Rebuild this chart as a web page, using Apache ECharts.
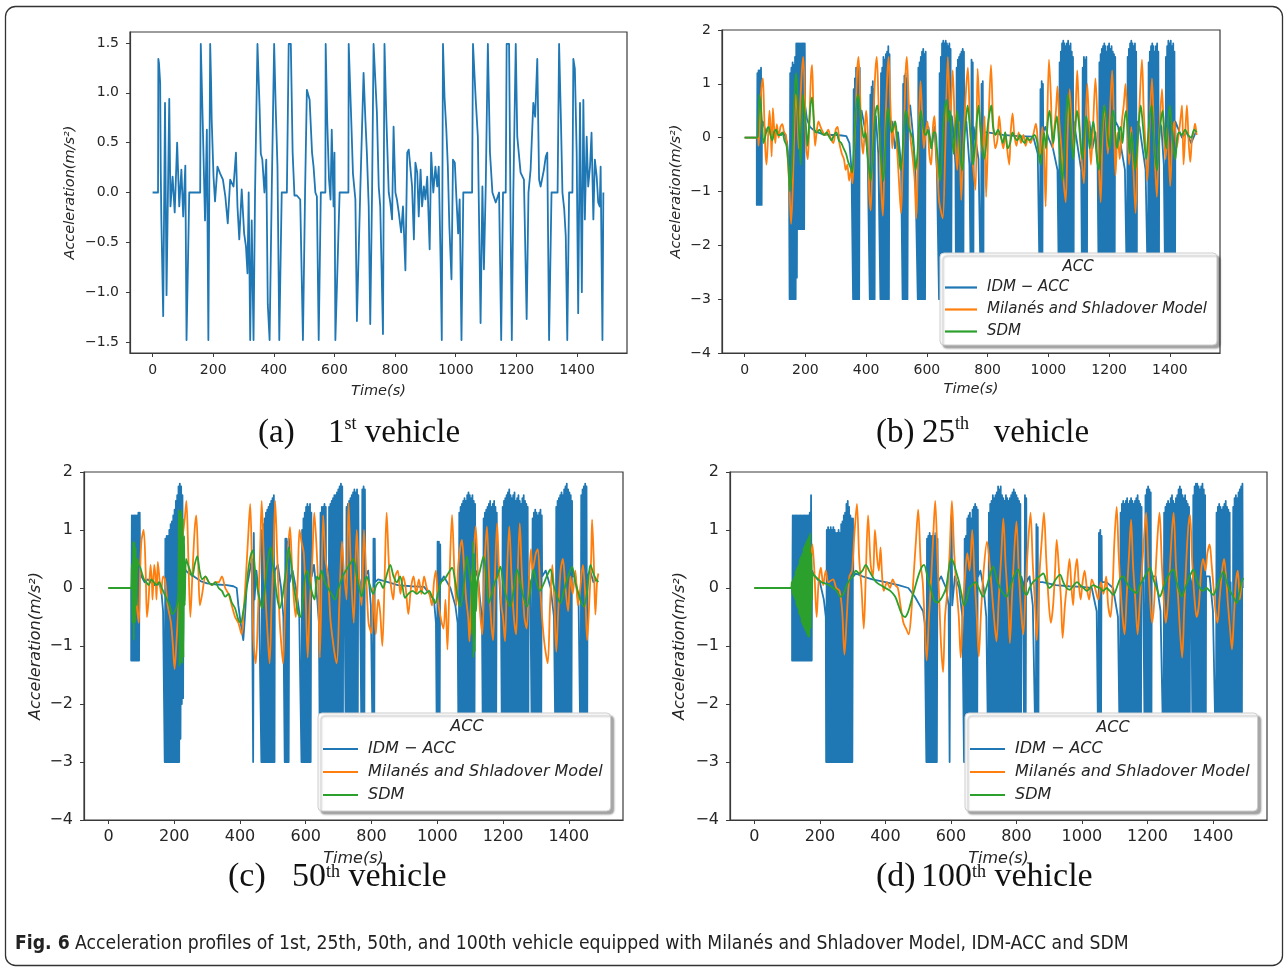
<!DOCTYPE html>
<html><head><meta charset="utf-8">
<script src="https://cdn.jsdelivr.net/npm/echarts@6/dist/echarts.min.js"></script>
<style>html,body{margin:0;padding:0;background:#fff}#c{width:1288px;height:971px}</style>
</head><body><div id="c"></div>
<script>
// ---------------- DATA ----------------
const xTicks = [0, 200, 400, 600, 800, 1000, 1200, 1400];
const yTicksA = [-1.5, -1.0, -0.5, 0.0, 0.5, 1.0, 1.5];
const modelNames = ['IDM − ACC', 'Milanés and Shladover Model', 'SDM'];
const legendTitle = 'ACC';
const xTitle = 'Time(s)';
const yTitle = 'Acceleration(m/s²)';
const figCaptionBold = 'Fig. 6';
const figCaptionText = ' Acceleration profiles of 1st, 25th, 50th, and 100th vehicle equipped with Milanés and Shladover Model, IDM-ACC and SDM';
const panelLetters = ['(a)', '(b)', '(c)', '(d)'];
const panelNumbers = ['1', '25', '50', '100'];
const panelSuffix = ['st', 'th', 'th', 'th'];

// flat lists: time, acceleration, time, acceleration, ...
// (a) 1st vehicle
const a_lead = [0,0, 18,0, 19,1.34, 21,1.3, 23,1.2, 25,1.1, 27,0.2, 29,-0.28, 35,-1.24, 41,0.9, 46,-1.03, 55,0.94, 59,-0.14, 66,0.16, 73,-0.2, 81,0.5, 88,-0.14, 95,0.23, 101,-0.24, 108,0.27, 112,-1.48, 121,0, 157,0, 159,1.49, 163,1.49, 166,0.63, 173,-0.28, 179,0.63, 184,-1.48, 190,1.49, 193,1.1, 195,0.73, 201,0.16, 206,-0.09, 214,0.26, 223,0.19, 232,0.13, 240,-0.04, 248,-0.31, 256,0.13, 267,0.06, 275,0.4, 280,-0.14, 286,-0.47, 294,0.03, 302,-0.41, 308,-0.54, 313,-0.81, 317,0.0, 322,-1.48, 327,-0.28, 333,-1.48, 338,0, 344,0, 346,1.49, 353,0.85, 357,0.39, 362,0.33, 369,0.0, 375,0.33, 380,-1.12, 386,-1.48, 393,0, 401,1.49, 406,0.87, 412,0.26, 418,-1.48, 426,0, 443,0, 449,1.49, 456,1.49, 462,0.4, 468,-0.03, 476,-0.03, 487,-0.07, 496,-1.48, 503,0, 509,1.03, 518,0.93, 526,0.4, 531,0.26, 537,0, 542,-0.04, 548,-1.48, 555,0, 570,0, 571,1.49, 576,0.73, 582,0.13, 587,-0.07, 591,0.63, 597,-0.14, 600,0.4, 603,-1.48, 617,0, 646,0, 647,1.49, 655,0.76, 661,0.19, 669,-0.07, 674,-1.29, 680,-1.29, 685,0, 696,1.2, 702,0.73, 707,0.39, 713,-0.14, 718,-1.32, 724,0.0, 729,1.49, 740,0.8, 746,0.06, 751,-0.14, 760,-1.42, 763,-1.42, 765,1.49, 771,0.76, 779,0.0, 784,-0.1, 790,-0.27, 795,0.66, 801,0, 806,-0.07, 812,-0.2, 820,-0.4, 826,-0.14, 834,-0.78, 840,0.4, 845,0.43, 851,0.23, 856,0.06, 862,-0.47, 867,0.3, 873,0.2, 878,-0.24, 884,0.23, 889,-0.14, 895,0.06, 900,-0.07, 906,0.16, 914,-0.57, 919,0.4, 926,0, 933,0.26, 939,0.06, 944,0.26, 950,-0.67, 954,-1.48, 958,1.49, 963,0.96, 969,0.63, 974,0.26, 979,-0.34, 986,-0.87, 991,0.33, 997,0.3, 1002,-0.04, 1008,-0.41, 1013,-0.07, 1019,-1.48, 1025,0, 1054,0, 1057,1.49, 1066,0.93, 1073,0.56, 1082,-1.31, 1088,0.06, 1093,-0.77, 1099,0.06, 1106,1.49, 1113,0.4, 1121,0.0, 1132,-0.1, 1143,0, 1150,-1.48, 1156,0, 1165,0, 1168,1.49, 1176,1.49, 1181,-0.27, 1185,-1.48, 1190,0, 1198,1.49, 1203,0.56, 1214,0.2, 1225,0.13, 1234,-1.27, 1240,0.0, 1247,0.23, 1256,0.9, 1262,0.76, 1269,1.34, 1275,0.13, 1280,0.06, 1291,0.23, 1297,0.36, 1302,0.4, 1308,-1.48, 1316,0, 1336,0, 1341,1.49, 1347,0.73, 1352,0.0, 1358,-0.17, 1363,-0.44, 1368,-1.48, 1374,0, 1385,0, 1388,1.34, 1393,1.24, 1399,0.4, 1404,-1.21, 1410,0.9, 1416,-1.0, 1421,0.93, 1426,-0.27, 1432,0.56, 1437,0.06, 1443,0.26, 1448,0.6, 1454,-0.27, 1459,0.33, 1465,0.16, 1470,-0.1, 1475,-0.14, 1478,0.26, 1484,-1.48, 1487,0];

// (b) 25th vehicle
const b_idm = [0,0, 40,0, 40,-1.25, 42,1.2, 44,-1.25, 46,1.25, 48,-1.25, 50,1.25, 52,-1.25, 54,1.3, 56,-1.25, 57,0.2, 60,0.3, 70,0.1, 80,0.15, 90,0.05, 100,0.15, 110,0.1, 120,0.05, 130,0.1, 140,-0.1, 146,-0.5,
 148,-3, 150,1.2, 152,-3, 154,1.3, 156,-3, 158,1.4, 160,-3, 162,1.35, 164,-3, 166,1.5, 168,-3, 170,1.75, 172,-2.6, 174,1.75, 176,-1.7, 178,1.75, 180,-1.7, 182,1.75, 184,-1.7, 186,1.75, 188,-1.7, 190,1.75, 192,-1.7, 194,1.75, 196,-1.7, 198,1.75, 199,0.6,
 205,0.35, 215,0.2, 225,0.15, 240,0.1, 260,0.06, 280,0.05, 300,0.05, 320,0.04, 335,0.03, 345,-0.1, 352,-0.6,
 357,-3, 359,0.9, 361,-3, 363,1.1, 365,-3, 367,1.3, 369,-3, 371,1.3, 373,-3, 375,1.35, 377,-3, 379,1.3, 380,0.3, 385,0.5, 395,0.2, 405,-0.3,
 412,-3, 414,0.8, 416,-3, 418,0.95, 420,-3, 422,1.05, 424,-3, 426,0.9, 428,-3, 429,0.2, 432,0.4, 440,-0.3,
 447,-3, 449,1.2, 451,-3, 453,1.3, 455,-3, 457,1.5, 459,-3, 461,1.45, 463,-3, 465,1.55, 467,-3, 469,1.6, 471,-3, 473,1.7, 475,-3, 477,1.55, 478,0.3, 485,0.3, 495,-0.2, 505,0.1, 515,-0.5,
 520,-3, 522,1.0, 524,-3, 526,1.15, 528,-3, 530,1.2, 532,-3, 534,1.1, 536,-3, 538,0.2, 545,0.6, 555,0.0, 562,-0.6,
 570,-3, 572,1.3, 574,-3, 576,1.4, 578,-3, 580,1.5, 582,-3, 584,1.6, 586,-3, 588,1.65, 590,-3, 592,1.55, 594,-3, 596,1.6, 597,0.2, 605,0.2, 615,-0.2, 625,0.2, 633,-0.6,
 640,-3, 642,1.2, 644,-3, 646,1.5, 648,-3, 650,1.75, 652,-3, 654,1.8, 656,-3, 658,1.75, 660,-3, 662,1.8, 664,-3, 666,1.75, 668,-3, 670,1.7, 672,-3, 674,1.75, 676,-3, 678,1.65, 680,-3, 682,0.4, 688,0.1, 694,-0.5,
 696,-3, 698,1.3, 700,-3, 702,1.45, 704,-3, 706,1.5, 708,-3, 710,1.55, 712,-3, 714,1.6, 716,-3, 718,1.65, 720,-3, 722,1.6, 723,0.2, 730,0.3, 740,-0.5,
 745,-3, 747,1.45, 749,-3, 751,1.4, 753,-3, 754,0.2, 760,0.2, 770,-0.4,
 778,-3, 780,1.0, 782,-3, 784,1.05, 786,-3, 787,0.1, 800,0.1, 850,0.05, 900,0.03, 950,0.02, 965,-0.3,
 972,-3, 974,0.9, 976,-3, 978,1.05, 980,-3, 982,1.0, 983,0.1, 990,0.2, 1000,0.0, 1015,-0.2, 1030,-0.6,
 1035,-3, 1037,1.4, 1039,-3, 1041,1.6, 1043,-3, 1045,1.75, 1047,-3, 1049,1.8, 1051,-3, 1053,1.75, 1055,-3, 1057,1.7, 1059,-3, 1061,1.75, 1063,-3, 1065,1.8, 1067,-3, 1069,1.7, 1071,-3, 1073,1.75, 1075,-3, 1077,1.6, 1079,-3, 1081,1.5, 1083,-3, 1084,0.3, 1090,0.3, 1100,-0.3, 1108,-0.6,
 1111,-3, 1113,1.3, 1115,-3, 1117,1.5, 1119,-3, 1121,1.45, 1123,-3, 1125,1.5, 1127,-3, 1128,0.2, 1135,0.3, 1145,-0.2, 1155,0.1, 1162,-0.5,
 1166,-3, 1168,1.4, 1170,-3, 1172,1.55, 1174,-3, 1176,1.65, 1178,-3, 1180,1.7, 1182,-3, 1184,1.75, 1186,-3, 1188,1.7, 1190,-3, 1192,1.6, 1194,-3, 1196,1.7, 1198,-3, 1200,1.75, 1202,-3, 1204,1.65, 1206,-3, 1208,1.7, 1210,-3, 1212,1.6, 1214,-3, 1216,1.55, 1218,-3, 1220,1.5, 1221,0.3, 1230,0.2, 1240,-0.2, 1252,-0.6,
 1259,-3, 1261,1.5, 1263,-3, 1265,1.65, 1267,-3, 1269,1.75, 1271,-3, 1273,1.8, 1275,-3, 1277,1.75, 1279,-3, 1281,1.7, 1283,-3, 1285,1.75, 1287,-3, 1289,1.6, 1291,-3, 1292,0.3, 1300,0.2, 1310,-0.2, 1320,-0.6,
 1328,-3, 1330,1.4, 1332,-3, 1334,1.6, 1336,-3, 1338,1.7, 1340,-3, 1342,1.75, 1344,-3, 1346,1.7, 1348,-3, 1350,1.6, 1352,-3, 1354,1.7, 1356,-3, 1358,1.75, 1360,-3, 1362,1.6, 1364,-3, 1365,0.3, 1372,0.2, 1380,-0.5,
 1385,-3, 1387,1.5, 1389,-3, 1391,1.7, 1393,-3, 1395,1.8, 1397,-3, 1399,1.75, 1401,-3, 1403,1.8, 1405,-3, 1407,1.7, 1409,-3, 1411,1.75, 1413,-3, 1415,1.6, 1417,-3, 1418,0.3, 1425,0.2, 1440,0.0, 1455,0.1, 1470,-0.1, 1485,0.1];
const b_mil = [0,0, 42,0, 46,-0.15, 50,0.3, 55,0.9, 60,1.1, 64,0.5, 68,-0.2, 72,-0.5, 77,0.0, 82,0.5, 86,0.1, 89,-0.35, 93,0.55, 97,0.2, 101,-0.1, 106,0.25, 112,0.0, 118,0.2, 124,0.25, 130,0.1, 136,0.05, 142,-0.4, 148,-1.0, 153,-1.6, 158,-1.0, 163,0.0, 168,0.8, 173,0.5, 178,-0.2, 183,0.6, 188,1.2, 193,1.5, 198,0.8, 203,-0.2, 208,-0.4, 213,0.3, 218,1.1, 222,1.35, 227,0.4, 232,-0.15, 237,0.1, 243,0.3, 250,0.2, 258,0.1, 266,0.05, 275,0.15, 283,0.0, 292,-0.1, 300,0.15, 306,0.2, 312,-0.1, 320,-0.3, 327,-0.4, 333,-0.6, 338,-0.5, 344,-0.8, 350,-0.6, 355,-0.85, 360,-0.3, 366,0.5, 370,1.2, 375,1.5, 380,0.8, 385,0.0, 390,-0.3, 396,0.2, 400,0.5, 405,0.1, 410,-1.0, 415,-1.35, 420,-0.5, 425,0.5, 430,1.2, 435,1.5, 440,0.8, 445,-0.2, 450,-1.0, 455,-1.45, 460,-0.5, 465,0.5, 470,1.2, 474,1.5, 480,0.6, 486,-0.2, 492,0.3, 498,0.1, 505,-0.5, 510,-1.0, 515,-1.4, 520,-0.6, 525,0.2, 530,1.2, 534,1.5, 540,0.7, 546,0.0, 552,-0.3, 560,-0.8, 565,-1.5, 570,-0.6, 575,0.5, 579,1.05, 584,0.5, 590,-0.2, 596,0.1, 602,0.3, 608,-0.3, 614,-0.5, 620,0.2, 625,0.4, 630,-0.2, 636,-0.8, 641,-1.2, 652,-1.5, 660,-0.3, 669,1.5, 677,0.4, 685,1.25, 693,0.0, 700,-0.6, 706,0.3, 713,-1.16, 720,-0.2, 728,0.8, 735,1.3, 742,0.2, 750,-0.4, 760,-0.97, 767,1.28, 775,0.3, 783,-0.3, 790,0.4, 795,-1.1, 803,0.3, 811,1.35, 818,0.3, 825,-0.2, 832,-0.05, 838,0.4, 845,0.0, 852,-0.2, 858,0.1, 864,-0.2, 871,-0.5, 876,0.1, 882,0.45, 888,0.05, 895,-0.15, 902,0.1, 910,-0.1, 918,0.05, 925,-0.15, 933,0.0, 941,-0.1, 950,0.05, 959,0.26, 966,-0.1, 973,-0.3, 980,0.2, 986,-0.3, 991,-1.28, 996,0.2, 1002,1.45, 1008,0.8, 1014,-0.2, 1020,0.2, 1025,0.5, 1030,0.95, 1036,0.3, 1043,-0.2, 1050,-0.8, 1057,-1.2, 1063,0.0, 1070,0.9, 1076,0.3, 1082,-0.3, 1088,0.2, 1095,1.25, 1101,0.4, 1108,-0.3, 1117,-0.85, 1122,0.2, 1128,1.0, 1134,0.2, 1140,-0.5, 1147,0.2, 1155,1.1, 1162,0.2, 1167,-0.6, 1172,-1.2, 1178,0.0, 1184,0.6, 1190,0.2, 1196,-0.3, 1203,0.5, 1210,1.25, 1216,0.3, 1221,-0.7, 1228,0.1, 1235,-0.4, 1242,0.3, 1248,0.6, 1254,1.0, 1260,0.2, 1266,-0.5, 1273,0.2, 1280,-0.6, 1287,-1.4, 1293,-0.3, 1300,0.6, 1308,1.45, 1314,0.5, 1320,-0.2, 1326,-0.8, 1333,0.2, 1341,1.1, 1348,0.0, 1357,-1.1, 1363,-0.2, 1368,0.4, 1374,0.9, 1380,0.1, 1386,-0.4, 1392,0.2, 1401,-0.9, 1408,0.0, 1415,0.3, 1422,-0.2, 1430,0.1, 1436,0.4, 1440,0.6, 1445,-0.5, 1450,0.0, 1456,0.6, 1462,-0.1, 1467,-0.45, 1473,0.0, 1478,0.1, 1483,0.26, 1488,0.05];
const b_sdm = [0,0, 42,0, 45,0.3, 49,0.8, 53,0.6, 58,0.2, 62,-0.1, 67,0.0, 73,0.15, 79,0.2, 85,0.05, 91,-0.05, 97,0.1, 104,0.15, 110,0.05, 117,0.05, 124,0.1, 131,-0.05, 138,-0.15, 144,-0.5, 149,-1.0, 154,-0.7, 158,-0.2, 162,0.5, 166,1.0, 170,1.2, 175,0.6, 180,0.0, 184,-0.5, 188,0.2, 192,0.8, 197,0.5, 202,0.2, 207,-0.15, 212,0.2, 217,0.6, 222,0.75, 227,0.4, 232,0.1, 238,0.1, 246,0.15, 254,0.08, 262,0.05, 270,0.1, 278,0.02, 286,-0.05, 294,0.05, 302,0.1, 310,-0.05, 318,-0.1, 326,-0.2, 334,-0.3, 341,-0.45, 348,-0.55, 354,-0.65, 359,-0.3, 364,0.3, 369,0.7, 374,0.8, 380,0.5, 386,0.2, 392,0.0, 398,0.1, 404,-0.3, 410,-0.6, 415,-0.8, 421,-0.4, 427,0.2, 432,0.5, 437,0.6, 442,0.3, 447,-0.2, 452,-0.6, 457,-0.8, 462,-0.3, 467,0.3, 472,0.55, 478,0.3, 484,0.1, 490,0.2, 496,0.3, 502,0.0, 508,-0.3, 513,-0.6, 518,-0.4, 524,0.1, 530,0.5, 535,0.4, 540,0.2, 546,0.1, 552,0.0, 558,-0.3, 563,-0.6, 569,-0.3, 574,0.2, 580,0.5, 585,0.3, 591,0.1, 597,0.05, 603,0.15, 609,0.0, 615,-0.2, 622,0.1, 628,0.1, 633,-0.2, 638,-0.5, 643,-0.8, 648,-0.5, 654,0.2, 660,0.6, 665,0.7, 670,0.3, 676,0.5, 682,0.1, 688,-0.3, 694,0.2, 700,0.5, 705,0.1, 711,-0.4, 717,-0.6, 723,-0.1, 728,0.3, 734,0.6, 740,0.3, 746,-0.1, 752,-0.5, 758,-0.2, 764,0.3, 770,0.6, 776,0.2, 782,-0.2, 788,-0.4, 794,-0.2, 800,0.2, 806,0.45, 812,0.6, 818,0.2, 826,0.05, 834,0.15, 842,0.05, 850,-0.1, 858,0.1, 866,-0.2, 874,-0.1, 882,0.1, 890,0.0, 898,-0.05, 906,0.05, 914,-0.05, 922,-0.1, 930,0.0, 938,-0.05, 946,0.0, 954,0.05, 962,-0.05, 968,-0.3, 974,-0.5, 980,-0.2, 986,0.1, 992,-0.2, 998,0.3, 1004,0.5, 1010,0.2, 1016,-0.1, 1022,0.2, 1028,0.4, 1034,0.0, 1040,-0.5, 1046,-0.8, 1052,-0.3, 1058,0.4, 1064,0.8, 1070,0.5, 1076,0.0, 1082,-0.4, 1088,0.1, 1094,0.5, 1100,0.3, 1106,-0.1, 1112,-0.4, 1118,0.0, 1124,0.4, 1130,0.2, 1136,-0.2, 1142,0.1, 1148,0.3, 1154,0.0, 1160,-0.4, 1166,-0.6, 1172,-0.2, 1178,0.3, 1184,0.6, 1190,0.4, 1196,0.0, 1202,-0.2, 1208,0.3, 1214,0.5, 1220,0.1, 1226,-0.2, 1232,0.1, 1238,0.2, 1244,-0.1, 1250,0.3, 1256,0.5, 1262,0.1, 1268,-0.3, 1274,0.1, 1280,-0.3, 1286,-0.6, 1292,-0.2, 1298,0.3, 1304,0.6, 1310,0.3, 1316,-0.1, 1322,-0.4, 1328,0.0, 1334,0.4, 1340,0.6, 1346,0.1, 1352,-0.4, 1358,-0.6, 1364,-0.1, 1370,0.3, 1376,0.5, 1382,0.1, 1388,-0.2, 1394,0.3, 1400,0.6, 1406,0.2, 1412,-0.2, 1418,-0.4, 1424,0.0, 1430,0.1, 1440,0.05, 1450,0.15, 1460,0.05, 1470,0.0, 1480,0.15, 1488,0.1];

// (c) 50th vehicle
const c_idm = [0,0, 69,0, 69,-1.25, 71,1.25, 73,-1.25, 75,1.25, 77,-1.25, 79,1.25, 81,-1.25, 83,1.25, 85,-1.25, 87,1.25, 89,-1.25, 91,1.3, 93,-1.25, 95,1.3, 96,0.3, 100,0.2, 110,0.1, 120,0.15, 130,0.1, 140,0.05, 150,0.1, 160,0.0, 166,-0.4,
 171,-3, 173,0.85, 175,-3, 177,0.9, 179,-3, 181,0.9, 183,-3, 185,1.0, 187,-3, 189,1.1, 191,-3, 193,1.15, 195,-3, 197,1.25, 199,-3, 201,1.35, 203,-3, 205,1.5, 207,-3, 209,1.6, 211,-3, 213,1.75, 215,-3, 217,1.8, 219,-2.6, 221,1.75, 223,-2.0, 225,1.6, 227,-1.9, 228,0.4,
 235,0.3, 245,0.25, 260,0.2, 280,0.12, 300,0.08, 330,0.06, 360,0.05, 380,0.03, 390,0.0, 395,-0.3, 402,-0.6, 410,-0.9, 415,-0.5, 420,0.0, 430,0.3, 436,0.5, 440,-3, 442,0.95, 444,-0.2, 450,0.3, 458,-0.2,
 465,-3, 467,1.0, 469,-3, 471,1.1, 473,-3, 475,1.2, 477,-3, 479,1.3, 481,-3, 483,1.35, 485,-3, 487,1.4, 489,-3, 491,1.45, 493,-3, 495,1.5, 497,-3, 499,1.55, 501,-3, 503,1.6, 505,-3, 506,0.3, 515,0.4, 525,0.0, 532,-0.5,
 536,-3, 538,0.85, 540,-3, 542,0.85, 544,-3, 546,0.8, 548,-3, 550,0.85, 551,0.1, 560,0.3, 570,0.0, 580,-0.4,
 587,-3, 589,1.0, 591,-3, 593,1.2, 595,-3, 597,1.3, 599,-3, 601,1.4, 603,-3, 605,1.45, 607,-3, 609,1.4, 611,-3, 613,1.45, 615,-3, 617,1.3, 618,0.2, 625,0.4, 635,-0.2, 640,-0.6,
 643,-3, 645,1.3, 647,-3, 649,1.4, 651,-3, 653,1.4, 655,-3, 657,1.45, 659,-3, 661,1.4, 663,-3, 664,0.2, 667,0.1,
 669,-3, 671,1.4, 673,-3, 675,1.45, 677,-3, 679,1.5, 681,-3, 683,1.55, 685,-3, 687,1.6, 689,-3, 691,1.6, 693,-3, 695,1.65, 697,-3, 699,1.7, 701,-3, 703,1.75, 705,-3, 707,1.8, 709,-3, 711,1.75, 713,-3, 714,0.3, 718,0.1,
 722,-3, 724,1.4, 726,-3, 728,1.45, 730,-3, 732,1.5, 734,-3, 736,1.55, 738,-3, 740,1.6, 742,-3, 744,1.65, 746,-3, 748,1.7, 750,-3, 752,1.65, 754,-3, 756,1.7, 758,-3, 760,1.6, 761,0.2, 765,0.1,
 770,-3, 772,1.7, 774,-3, 776,1.75, 778,-3, 780,1.7, 781,0.2, 790,0.3, 798,-0.3,
 804,-3, 806,0.85, 808,-3, 810,0.85, 811,0.1, 820,0.15, 850,0.1, 880,0.05, 920,0.03, 960,0.02, 990,-0.2, 996,-0.6,
 999,-3, 1001,0.8, 1003,-3, 1005,0.8, 1007,-3, 1009,0.75, 1010,0.1, 1020,0.2, 1040,0.0, 1055,-0.3, 1062,-0.6,
 1065,-3, 1067,1.3, 1069,-3, 1071,1.4, 1073,-3, 1075,1.45, 1077,-3, 1079,1.5, 1081,-3, 1083,1.55, 1085,-3, 1087,1.5, 1089,-3, 1091,1.6, 1093,-3, 1095,1.65, 1097,-3, 1099,1.6, 1101,-3, 1103,1.55, 1105,-3, 1107,1.6, 1109,-3, 1111,1.5, 1113,-3, 1115,1.45, 1116,0.2, 1122,0.3, 1130,-0.2, 1136,-0.5,
 1139,-3, 1141,1.2, 1143,-3, 1145,1.3, 1147,-3, 1149,1.35, 1151,-3, 1153,1.4, 1155,-3, 1157,1.45, 1159,-3, 1161,1.5, 1163,-3, 1165,1.4, 1167,-3, 1169,1.45, 1171,-3, 1173,1.5, 1175,-3, 1177,1.4, 1179,-3, 1181,1.3, 1182,0.2, 1188,0.3, 1194,-0.5,
 1197,-3, 1199,1.4, 1201,-3, 1203,1.5, 1205,-3, 1207,1.55, 1209,-3, 1211,1.6, 1213,-3, 1215,1.65, 1217,-3, 1219,1.7, 1221,-3, 1223,1.6, 1225,-3, 1227,1.55, 1229,-3, 1231,1.6, 1233,-3, 1235,1.65, 1237,-3, 1239,1.5, 1241,-3, 1243,1.55, 1245,-3, 1247,1.6, 1249,-3, 1251,1.5, 1253,-3, 1255,1.45, 1257,-3, 1259,1.55, 1261,-3, 1263,1.6, 1265,-3, 1267,1.5, 1269,-3, 1271,1.45, 1273,-3, 1275,1.4, 1277,-3, 1278,0.2, 1283,0.1,
 1288,-3, 1290,1.2, 1292,-3, 1294,1.3, 1296,-3, 1298,1.35, 1300,-3, 1302,1.3, 1304,-3, 1306,1.25, 1308,-3, 1310,1.3, 1312,-3, 1314,1.35, 1316,-3, 1318,1.25, 1319,0.2, 1330,0.3, 1345,0.0, 1355,-0.5,
 1360,-3, 1362,1.4, 1364,-3, 1366,1.5, 1368,-3, 1370,1.55, 1372,-3, 1374,1.6, 1376,-3, 1378,1.65, 1380,-3, 1382,1.6, 1384,-3, 1386,1.7, 1388,-3, 1390,1.75, 1392,-3, 1394,1.8, 1396,-3, 1398,1.7, 1400,-3, 1402,1.65, 1404,-3, 1406,1.6, 1408,-3, 1410,1.5, 1411,0.2, 1420,0.2, 1430,-0.3,
 1436,-3, 1438,1.6, 1440,-3, 1442,1.7, 1444,-3, 1446,1.75, 1448,-3, 1450,1.8, 1452,-3, 1454,1.75, 1456,-3, 1457,0.2, 1465,0.3, 1475,0.1, 1485,0.15];
const c_mil = [0,0, 75,0, 80,0.2, 86,-0.3, 92,-0.6, 96,0.2, 100,0.8, 107,1.0, 113,0.3, 117,-0.5, 122,-0.2, 128,0.4, 132,0.1, 134,-0.2, 139,0.4, 143,0.2, 146,-0.2, 150,0.45, 156,0.1, 160,-0.1, 166,0.2, 172,0.15, 180,-0.3, 190,-0.6, 196,-1.0, 201,-1.4, 207,-0.9, 213,-0.3, 219,0.4, 226,0.9, 232,1.2, 237,1.5, 243,0.5, 249,-0.5, 255,0.2, 262,1.0, 267,1.25, 273,0.4, 278,-0.3, 285,-0.1, 295,0.2, 305,0.1, 315,0.05, 325,0.1, 335,0.1, 345,0.2, 355,0.0, 365,-0.1, 375,-0.3, 385,-0.5, 395,-0.6, 405,-0.8, 410,-0.5, 418,0.2, 425,0.9, 431,1.45, 436,0.5, 441,-0.9, 448,-1.3, 455,-0.4, 461,0.6, 466,1.5, 472,0.6, 478,-0.2, 484,-0.8, 490,-1.3, 496,-0.3, 502,0.6, 507,1.5, 513,0.6, 520,-0.5, 526,-1.0, 531,-1.3, 537,-0.4, 544,0.5, 552,1.05, 558,0.4, 564,-0.2, 570,-0.5, 576,0.2, 581,1.0, 587,0.8, 594,0.6, 600,-0.2, 606,-1.2, 612,-0.3, 620,0.5, 626,1.3, 632,0.8, 638,0.0, 643,-1.2, 653,1.25, 660,0.5, 668,0.2, 676,-0.6, 694,-1.3, 702,-0.3, 710,0.8, 716,0.3, 724,-0.2, 730,1.47, 738,0.2, 746,-0.6, 755,1.0, 762,0.2, 770,-0.3, 777,1.0, 784,0.2, 791,-0.6, 800,-0.78, 806,0.0, 813,-0.8, 820,-0.2, 826,-0.4, 833,-1.0, 840,0.2, 846,1.3, 853,0.4, 860,0.0, 866,-0.2, 872,0.2, 880,0.3, 888,-0.1, 896,0.2, 904,0.0, 912,-0.45, 920,0.0, 928,0.2, 936,-0.1, 944,0.15, 952,-0.1, 960,0.2, 968,0.0, 976,-0.1, 984,-0.3, 990,0.1, 996,0.3, 1002,-0.2, 1010,-0.5, 1019,-0.7, 1025,-0.2, 1031,-1.06, 1038,0.3, 1045,1.26, 1052,0.3, 1058,-0.3, 1064,0.4, 1075,0.83, 1082,0.3, 1088,-0.2, 1094,-0.5, 1098,-0.92, 1104,0.0, 1110,0.5, 1117,1.06, 1123,0.3, 1130,-0.4, 1137,-0.8, 1144,0.4, 1151,1.06, 1157,0.3, 1163,-0.5, 1170,-0.9, 1176,0.3, 1182,1.12, 1188,0.3, 1195,-0.3, 1200,-0.5, 1206,-0.92, 1212,0.2, 1219,1.06, 1226,0.2, 1233,-0.5, 1240,-0.8, 1245,0.3, 1251,1.12, 1257,0.3, 1265,-0.5, 1272,-0.7, 1278,0.0, 1285,0.67, 1290,0.3, 1300,0.6, 1306,0.67, 1313,0.0, 1320,-0.6, 1327,-1.0, 1336,-1.3, 1343,-0.3, 1350,0.4, 1356,-0.2, 1362,-1.1, 1368,-0.4, 1375,0.3, 1382,0.5, 1390,0.0, 1398,-0.4, 1405,0.2, 1412,-0.1, 1420,0.3, 1428,-0.3, 1435,0.0, 1443,0.4, 1450,-0.1, 1456,-0.9, 1462,-0.3, 1468,0.5, 1471,1.18, 1476,0.5, 1481,-0.46, 1486,0.1, 1490,0.25];
const c_sdm = [0,0, 69,0, 71,0.4, 73,-0.6, 75,0.8, 77,-0.9, 79,0.8, 81,-0.6, 83,0.7, 85,-0.3, 88,0.5, 92,0.4, 97,0.35, 102,0.25, 108,0.15, 115,0.1, 122,0.05, 130,0.15, 138,0.1, 146,0.05, 154,0.1, 162,0.0, 170,-0.1, 178,-0.2, 186,-0.3, 194,-0.45, 202,-0.4, 208,-0.3, 212,-0.1, 214,1.35, 216,-1.35, 218,1.3, 220,-1.3, 222,1.35, 224,-1.3, 226,1.2, 228,-1.2, 230,0.9, 232,-0.3, 236,0.5, 242,0.4, 248,0.3, 255,0.2, 262,0.4, 270,0.55, 277,0.3, 285,0.15, 295,0.2, 305,0.1, 315,0.05, 325,0.1, 335,0.0, 345,-0.05, 355,-0.15, 365,-0.1, 375,-0.25, 385,-0.35, 395,-0.55, 402,-0.6, 410,-0.4, 418,-0.1, 425,0.3, 432,0.55, 439,0.65, 446,0.3, 453,0.0, 460,-0.2, 467,-0.35, 474,-0.1, 481,0.3, 488,0.6, 494,0.7, 500,0.4, 507,0.1, 514,-0.2, 521,-0.35, 528,-0.2, 535,0.1, 542,0.4, 548,0.7, 555,0.45, 562,0.1, 570,-0.2, 577,-0.45, 584,-0.5, 591,-0.2, 598,0.2, 605,0.3, 612,0.1, 620,-0.1, 627,-0.2, 634,0.2, 640,0.15, 648,0.3, 658,0.1, 668,0.0, 678,-0.1, 689,-0.2, 700,0.0, 712,0.2, 722,0.3, 733,0.4, 745,0.5, 755,0.2, 763,0.0, 770,-0.15, 778,0.05, 785,0.2, 795,0.05, 805,-0.1, 815,0.05, 825,0.1, 835,0.0, 845,0.2, 857,0.4, 867,0.2, 877,0.1, 887,0.2, 895,0.0, 902,-0.17, 912,-0.1, 925,-0.05, 938,-0.1, 950,-0.05, 962,-0.1, 975,-0.05, 984,-0.15, 994,-0.26, 1002,-0.1, 1012,0.1, 1022,0.15, 1033,0.25, 1045,0.35, 1055,0.1, 1062,-0.15, 1070,-0.32, 1078,-0.1, 1085,0.3, 1090,0.55, 1097,0.3, 1103,0.0, 1106,-0.8, 1108,0.8, 1110,-1.2, 1112,0.6, 1114,-1.1, 1116,0.3, 1118,-0.4, 1122,0.1, 1130,0.3, 1141,0.55, 1149,0.2, 1157,-0.26, 1166,-0.1, 1175,0.1, 1183,0.2, 1192,0.37, 1200,0.1, 1210,-0.15, 1222,-0.32, 1232,-0.05, 1243,0.32, 1252,0.1, 1262,-0.15, 1273,-0.32, 1283,-0.05, 1293,0.32, 1302,0.1, 1312,-0.05, 1322,0.05, 1333,0.2, 1344,0.32, 1354,0.05, 1365,-0.15, 1375,-0.26, 1385,-0.05, 1398,0.2, 1410,0.37, 1420,0.1, 1430,-0.1, 1438,-0.25, 1446,-0.32, 1455,-0.1, 1466,0.4, 1475,0.25, 1483,0.15, 1490,0.1];

// (d) 100th vehicle
const d_idm = [0,0, 115,0, 115,-1.25, 117,1.25, 119,-1.25, 121,1.25, 123,-1.25, 125,1.25, 127,-1.25, 129,1.25, 131,-1.25, 133,1.25, 135,-1.25, 137,1.25, 139,-1.25, 141,1.25, 143,-1.25, 145,1.25, 147,-1.25, 149,1.25, 151,-1.25, 153,1.25, 155,-1.25, 157,1.25, 159,-1.25, 161,1.25, 163,-1.25, 165,1.25, 167,-1.25, 169,1.3, 171,-1.25, 173,1.6, 175,-1.25, 176,0.3, 185,0.2, 200,0.1, 212,-0.2, 218,-0.5,
 219,-3, 221,1.0, 223,-3, 225,1.05, 227,-3, 229,1.0, 231,-3, 233,1.05, 235,-3, 237,1.0, 239,-3, 241,1.05, 243,-3, 245,1.0, 247,-3, 249,0.95, 251,-3, 253,0.95, 255,-3, 257,1.0, 259,-3, 261,0.95, 263,-3, 265,1.1, 267,-3, 269,1.15, 271,-3, 273,1.25, 275,-3, 277,1.3, 279,-3, 281,1.45, 283,-3, 285,1.5, 287,-3, 289,1.4, 291,-3, 293,1.25, 295,-3, 297,1.2, 299,-3, 301,1.2, 302,0.2,
 310,0.25, 330,0.2, 360,0.15, 400,0.1, 440,0.05, 470,0.0, 490,-0.15, 505,-0.3, 515,-0.4, 520,-0.6,
 525,-3, 527,0.85, 529,-3, 531,0.9, 533,-3, 535,0.95, 537,-3, 539,0.9, 541,-3, 543,0.9, 545,-3, 547,0.95, 549,-3, 551,0.9, 553,-3, 555,0.95, 557,-3, 559,0.85, 560,0.1, 570,0.2, 585,0.0, 593,-0.3,
 596,-3, 598,0.0, 602,1.25, 604,-0.3, 612,0.2, 625,0.0, 635,-0.5,
 640,-3, 642,0.85, 644,-3, 646,0.9, 648,-3, 650,1.2, 652,-3, 654,1.25, 656,-3, 658,1.3, 660,-3, 662,1.2, 664,-3, 666,1.35, 668,-3, 670,1.4, 672,-3, 674,1.45, 676,-3, 678,1.4, 680,-3, 682,1.35, 683,0.2, 690,0.3, 700,0.0, 708,-0.5,
 714,-3, 716,1.3, 718,-3, 720,1.45, 722,-3, 724,1.5, 726,-3, 728,1.6, 730,-3, 732,1.55, 734,-3, 736,1.6, 738,-3, 740,1.65, 742,-3, 744,1.75, 746,-3, 748,1.7, 750,-3, 752,1.75, 754,-3, 756,1.6, 758,-3, 760,1.55, 762,-3, 764,1.5, 766,-3, 768,1.6, 770,-3, 772,1.55, 774,-3, 776,1.5, 778,-3, 780,1.55, 782,-3, 784,1.6, 786,-3, 788,1.65, 790,-3, 792,1.7, 794,-3, 796,1.65, 798,-3, 800,1.6, 802,-3, 804,1.55, 806,-3, 808,1.5, 810,-3, 812,1.45, 814,-3, 815,0.2, 820,0.1,
 824,-3, 826,1.6, 828,-3, 830,1.55, 831,0.1, 840,0.2, 850,-0.3, 859,-3, 861,1.1, 863,-3, 865,1.05, 867,-3, 868,0.1,
 880,0.1, 920,0.05, 960,0.03, 1000,0.02, 1030,0.0, 1045,-0.4,
 1050,-3, 1052,0.95, 1054,-3, 1056,1.0, 1058,-3, 1060,0.9, 1061,0.1, 1075,0.1, 1095,0.0, 1110,-0.5,
 1116,-3, 1118,1.3, 1120,-3, 1122,1.45, 1124,-3, 1126,1.5, 1128,-3, 1130,1.45, 1132,-3, 1134,1.5, 1136,-3, 1138,1.55, 1140,-3, 1142,1.45, 1144,-3, 1146,1.5, 1148,-3, 1150,1.55, 1152,-3, 1154,1.5, 1156,-3, 1158,1.45, 1160,-3, 1162,1.5, 1164,-3, 1166,1.55, 1168,-3, 1170,1.6, 1172,-3, 1174,1.5, 1176,-3, 1178,1.45, 1180,-3, 1182,1.4, 1183,0.2, 1187,0.1,
 1192,-3, 1194,1.6, 1196,-3, 1198,1.7, 1200,-3, 1202,1.75, 1204,-3, 1206,1.7, 1208,-3, 1210,1.65, 1212,-3, 1213,0.2, 1225,0.2, 1240,-0.4,
 1249,-3, 1251,1.3, 1253,-3, 1255,1.4, 1257,-3, 1259,1.45, 1261,-3, 1263,1.5, 1265,-3, 1267,1.45, 1269,-3, 1271,1.55, 1273,-3, 1275,1.6, 1277,-3, 1279,1.5, 1281,-3, 1283,1.45, 1285,-3, 1287,1.55, 1289,-3, 1291,1.6, 1293,-3, 1295,1.7, 1297,-3, 1299,1.75, 1301,-3, 1303,1.7, 1305,-3, 1307,1.6, 1309,-3, 1311,1.55, 1313,-3, 1315,1.6, 1317,-3, 1319,1.5, 1321,-3, 1323,1.45, 1325,-3, 1327,1.4, 1329,-3, 1330,0.2, 1334,0.1,
 1338,-3, 1340,1.6, 1342,-3, 1344,1.75, 1346,-3, 1348,1.8, 1350,-3, 1352,1.8, 1354,-3, 1356,1.75, 1358,-3, 1360,1.7, 1362,-3, 1364,1.75, 1366,-3, 1368,1.8, 1370,-3, 1372,1.7, 1374,-3, 1376,1.6, 1378,-3, 1379,0.2, 1390,0.2, 1400,-0.4,
 1409,-3, 1411,1.3, 1413,-3, 1415,1.4, 1417,-3, 1419,1.45, 1421,-3, 1423,1.4, 1425,-3, 1427,1.35, 1429,-3, 1431,1.4, 1433,-3, 1435,1.45, 1437,-3, 1439,1.5, 1441,-3, 1443,1.4, 1445,-3, 1447,1.35, 1449,-3, 1451,1.3, 1453,-3, 1454,0.1,
 1460,-3, 1462,1.4, 1464,-3, 1466,1.55, 1468,-3, 1470,1.6, 1472,-3, 1474,1.55, 1476,-3, 1478,1.65, 1480,-3, 1482,1.7, 1484,-3, 1486,1.75, 1488,-3, 1490,1.8, 1491,0.0];
const d_mil = [0,0, 170,0, 172,0.4, 177,0.75, 183,0.3, 190,-0.5, 196,0.1, 203,0.35, 210,0.05, 218,0.3, 226,0.1, 240,0.15, 250,0.0, 260,-0.05, 268,-0.4, 275,-1.15, 282,-0.5, 290,0.2, 298,0.3, 305,0.9, 313,1.45, 320,0.5, 327,0.0, 334,-0.7, 340,0.2, 347,1.25, 355,0.4, 362,0.2, 368,1.0, 375,0.5, 380,0.3, 385,0.7, 390,0.2, 395,-0.05, 405,0.1, 414,0.0, 422,0.15, 430,0.05, 438,0.0, 446,-0.3, 455,-0.6, 463,-0.7, 471,-0.8, 478,-0.5, 486,0.2, 493,0.8, 500,1.35, 508,0.4, 514,0.1, 520,-0.6, 526,-1.25, 533,-0.5, 540,0.2, 546,0.9, 552,1.5, 559,0.5, 565,-0.3, 570,-1.0, 576,-1.45, 582,-0.5, 590,0.0, 596,0.6, 603,1.5, 610,0.6, 617,0.0, 624,-0.5, 630,-1.2, 636,-0.4, 643,0.2, 650,0.6, 657,0.3, 665,1.0, 672,0.2, 679,-0.5, 685,-1.18, 692,-0.4, 700,0.3, 710,0.8, 720,0.3, 730,-0.4, 739,-0.92, 746,-0.2, 754,0.6, 760,1.2, 767,0.4, 775,-0.3, 780,-0.95, 786,-0.2, 793,0.6, 800,1.15, 807,0.3, 814,-0.4, 821,-0.8, 828,0.0, 836,0.8, 843,1.3, 850,0.4, 857,-0.3, 862,-0.9, 870,0.2, 877,0.8, 884,1.3, 891,0.5, 898,-0.2, 905,-0.6, 912,-0.3, 918,0.3, 923,0.83, 930,0.3, 936,-0.2, 941,-0.86, 948,-0.3, 955,0.1, 962,0.5, 968,0.0, 973,-0.3, 978,0.2, 985,0.5, 990,0.1, 996,-0.2, 1002,0.1, 1008,0.3, 1015,0.0, 1022,-0.2, 1030,0.15, 1040,0.0, 1050,-0.2, 1058,0.1, 1066,-0.1, 1074,0.2, 1080,-0.3, 1087,-0.5, 1093,-0.1, 1099,0.8, 1106,1.4, 1112,0.6, 1118,0.0, 1124,-0.5, 1130,-0.8, 1137,-0.1, 1144,0.6, 1150,1.18, 1156,0.4, 1163,-0.2, 1170,-0.8, 1177,-0.2, 1184,0.4, 1190,0.9, 1196,1.3, 1202,0.5, 1208,-0.2, 1214,-0.6, 1220,-0.3, 1226,0.4, 1232,1.0, 1237,1.3, 1244,0.4, 1250,-0.2, 1256,-0.6, 1262,-0.3, 1269,0.4, 1275,1.0, 1280,1.3, 1287,0.4, 1294,-0.2, 1300,-0.8, 1306,-1.2, 1312,-0.4, 1318,0.4, 1324,1.0, 1330,1.26, 1337,0.4, 1344,-0.2, 1350,-0.5, 1357,-0.3, 1364,0.3, 1370,0.5, 1377,0.3, 1383,0.6, 1390,0.75, 1396,0.4, 1402,0.0, 1408,-0.4, 1414,-0.6, 1420,-0.2, 1428,0.3, 1434,0.5, 1440,0.2, 1446,-0.3, 1452,-0.7, 1458,-1.06, 1464,-0.5, 1470,0.1, 1476,0.3, 1482,-0.2, 1488,0.1];
const d_sdm = [0,0, 112,0, 114,0.1, 116,-0.1, 118,0.15, 120,-0.15, 122,0.2, 124,-0.2, 126,0.3, 128,-0.3, 130,0.35, 132,-0.35, 134,0.4, 136,-0.45, 138,0.5, 140,-0.5, 142,0.55, 144,-0.6, 146,0.6, 148,-0.65, 150,0.7, 152,-0.7, 154,0.75, 156,-0.75, 158,0.8, 160,-0.8, 162,0.85, 164,-0.85, 166,0.9, 168,-0.85, 170,0.95, 172,-0.7, 174,0.6, 176,-0.2, 178,0.25, 185,0.2, 195,0.15, 205,0.1, 215,0.08, 228,0.05, 240,0.0, 252,-0.05, 262,-0.15, 272,-0.1, 282,0.05, 292,0.15, 300,0.2, 310,0.3, 320,0.25, 330,0.3, 340,0.4, 350,0.3, 360,0.2, 372,0.1, 385,0.05, 400,0.0, 415,-0.05, 430,-0.15, 440,-0.3, 450,-0.45, 460,-0.5, 470,-0.4, 480,-0.2, 490,0.0, 500,0.2, 510,0.35, 518,0.4, 528,0.2, 538,0.0, 548,-0.2, 558,-0.25, 568,-0.2, 578,-0.1, 585,0.0, 593,0.3, 600,0.5, 607,0.45, 615,0.3, 625,0.1, 632,-0.1, 640,-0.3, 648,-0.2, 656,0.0, 665,0.05, 675,0.1, 685,0.0, 698,-0.15, 708,0.0, 718,0.2, 729,0.37, 740,0.15, 750,0.0, 760,-0.1, 770,-0.15, 780,0.0, 792,0.2, 805,0.32, 815,0.1, 823,-0.05, 831,-0.12, 840,0.0, 850,0.1, 860,0.15, 870,0.2, 882,0.25, 892,0.1, 900,0.0, 910,0.05, 920,0.15, 933,0.23, 943,0.1, 953,0.0, 963,-0.03, 975,0.05, 985,0.1, 995,0.05, 1005,0.0, 1015,-0.05, 1025,0.0, 1035,0.05, 1045,0.02, 1055,0.0, 1065,-0.05, 1075,0.0, 1085,-0.05, 1096,-0.12, 1106,0.0, 1116,0.15, 1126,0.2, 1136,0.1, 1146,0.0, 1156,-0.05, 1167,-0.09, 1177,0.05, 1187,0.15, 1197,0.25, 1208,0.35, 1218,0.15, 1228,0.0, 1238,-0.15, 1248,0.0, 1258,0.15, 1268,0.25, 1279,0.32, 1289,0.1, 1297,-0.05, 1305,-0.15, 1315,0.0, 1325,0.15, 1333,0.25, 1340,0.32, 1350,0.15, 1360,0.0, 1370,-0.05, 1380,0.0, 1390,-0.05, 1401,-0.12, 1411,0.0, 1421,0.15, 1432,0.28, 1442,0.1, 1452,-0.05, 1462,-0.15, 1473,-0.26, 1480,-0.1, 1487,0.1, 1493,0.17];

// ---------------- BUILD ----------------
function pairs(a){ const r=[]; for(let i=0;i<a.length;i+=2) r.push([a[i], a[i+1]]); return r; }
const COLORS = ['#1f77b4', '#ff7f0e', '#2ca02c'];
const TXT = '#262626';
const AX = '#3a3a3a';
const fmtX = v => String(v);
const fmtY1 = v => (v < 0 ? '\u2212' : '') + Math.abs(v).toFixed(1);
const fmtY0 = v => (v < 0 ? '\u2212' : '') + Math.abs(v);

// layout of the four panels (pixels)
const panels = [
  {left:130, top:32, width:497, height:321, ymin:-1.61, ymax:1.61, fs:14, nfs:14.5, ygap:52, xgap:31, xm:10, ym:11, a:true},
  {left:722, top:30, width:498, height:323, ymin:-4, ymax:2, fs:14, nfs:14.5, ygap:38, xgap:29, xm:10, ym:11},
  {left:84,  top:472, width:539, height:348, ymin:-4, ymax:2, fs:16, nfs:16, ygap:40, xgap:31, xm:9, ym:11},
  {left:730, top:472, width:537, height:348, ymin:-4, ymax:2, fs:16, nfs:16, ygap:42, xgap:31, xm:9, ym:11}
];
const grid=[], xAxis=[], yAxis=[];
panels.forEach((p,i)=>{
  grid.push({left:p.left, top:p.top, width:p.width, height:p.height, show:true, borderColor:AX, borderWidth:1.2, backgroundColor:'transparent', containLabel:false});
  xAxis.push({type:'value', gridIndex:i, min:-74.5, max:1565,
    axisLine:{show:true, onZero:false, lineStyle:{color:AX, width:1.2}},
    axisTick:{show:true, inside:false, length:4, lineStyle:{color:AX, width:1}, customValues:xTicks},
    axisLabel:{show:true, customValues:xTicks, color:TXT, fontSize:p.fs, fontFamily:'DejaVu Sans', margin:p.xm, formatter:fmtX},
    splitLine:{show:false},
    name:xTitle, nameLocation:'middle', nameGap:p.xgap,
    nameTextStyle:{fontStyle:'italic', fontSize:p.nfs, color:TXT, fontFamily:'DejaVu Sans'}
  });
  const yt = p.a ? {customValues:yTicksA} : {};
  yAxis.push(Object.assign({type:'value', gridIndex:i, min:p.ymin, max:p.ymax},
    p.a ? {} : {interval:1},
    {axisLine:{show:true, onZero:false, lineStyle:{color:AX, width:1.2}},
    axisTick:Object.assign({show:true, inside:false, length:4, lineStyle:{color:AX, width:1}}, yt),
    axisLabel:Object.assign({show:true, color:TXT, fontSize:p.fs, fontFamily:'DejaVu Sans', margin:p.ym, formatter: p.a ? fmtY1 : fmtY0}, yt),
    splitLine:{show:false},
    name:yTitle, nameLocation:'middle', nameGap:p.ygap,
    nameTextStyle:{fontStyle:'italic', fontSize:p.nfs, color:TXT, fontFamily:'DejaVu Sans'}}));
});

function line(name, data, idx, color, smooth){
  return {type:'line', name:name, xAxisIndex:idx, yAxisIndex:idx, data:pairs(data),
    showSymbol:false, symbol:'none', sampling:null, silent:true, animation:false, smooth:smooth||false,
    lineStyle:{color:color, width:1.8, join:'round'}, itemStyle:{color:color}};
}
const series = [
  line('Leader', a_lead, 0, COLORS[0]),
  line(modelNames[0], b_idm, 1, COLORS[0]), line(modelNames[1], b_mil, 1, COLORS[1], 0.3), line(modelNames[2], b_sdm, 1, COLORS[2], 0.3),
  line(modelNames[0], c_idm, 2, COLORS[0]), line(modelNames[1], c_mil, 2, COLORS[1], 0.3), line(modelNames[2], c_sdm, 2, COLORS[2], 0.3),
  line(modelNames[0], d_idm, 3, COLORS[0]), line(modelNames[1], d_mil, 3, COLORS[1], 0.3), line(modelNames[2], d_sdm, 3, COLORS[2], 0.3)
];

const legBoxes = [
  {left:940, top:253, fs:15, iw:32, pad:[27,10,6,5], gap:7, tx:1078, ty:267},
  {left:318, top:713, fs:16, iw:35, pad:[28,8,8,5], gap:7, tx:467, ty:727},
  {left:965, top:713, fs:16, iw:35, pad:[28,8,8,5], gap:7, tx:1113, ty:728}
];
const legend = legBoxes.map(L=>({
  orient:'vertical', left:L.left, top:L.top, data:modelNames, selectedMode:false,
  icon:'rect', itemWidth:L.iw, itemHeight:2.2, itemGap:L.gap, padding:L.pad,
  backgroundColor:'#ffffff', borderColor:'#cccccc', borderWidth:1, borderRadius:4,
  shadowColor:'rgba(0,0,0,0.35)', shadowBlur:2, shadowOffsetX:3, shadowOffsetY:3,
  textStyle:{fontStyle:'italic', fontSize:L.fs, color:TXT, fontFamily:'DejaVu Sans', padding:[0,0,0,5]}
}));

const graphic = [
  {type:'rect', shape:{x:5.5, y:6.5, width:1277, height:959, r:10}, style:{fill:'none', stroke:'#333', lineWidth:1.3}, silent:true}
];
legBoxes.forEach(L=>{
  graphic.push({type:'text', z:100, x:L.tx, y:L.ty, style:{text:legendTitle, fontStyle:'italic', fontSize:L.fs, fill:TXT, fontFamily:'DejaVu Sans', align:'center', verticalAlign:'middle'}});
});
const capPos = [
  {lx:258, nx:328, y:433, fs:33, ss:18, sp:0}, {lx:876, nx:922, y:433, fs:33, ss:18, sp:0},
  {lx:228, nx:292, y:877, fs:34, ss:18, sp:5}, {lx:876, nx:921, y:877, fs:34, ss:18, sp:5}
];
const capSpace = ['', '  ', '', ''];
capPos.forEach((c,i)=>{
  graphic.push({type:'text', x:c.lx, y:c.y, style:{text:panelLetters[i], fontFamily:'Liberation Serif', fontSize:c.fs, fill:'#111', verticalAlign:'middle'}});
  graphic.push({type:'text', x:c.nx, y:c.y, style:{
    text:'{n|'+panelNumbers[i]+'}{s|'+panelSuffix[i]+'}{n|'+capSpace[i]+' vehicle}',
    verticalAlign:'middle',
    rich:{n:{fontFamily:'Liberation Serif', fontSize:c.fs, fill:'#111', lineHeight:c.fs+3},
          s:{fontFamily:'Liberation Serif', fontSize:c.ss, fill:'#111', verticalAlign:'top', lineHeight:c.fs+3, padding:[c.sp,0,0,0]}}}});
});
graphic.push({type:'text', x:15, y:944, style:{
  text:'{b|'+figCaptionBold+'}{r|'+figCaptionText+'}', verticalAlign:'middle',
  rich:{b:{fontFamily:'Liberation Sans Narrow, DejaVu Sans Condensed', fontWeight:'bold', fontSize:19.2, fill:'#222'},
        r:{fontFamily:'Liberation Sans Narrow, DejaVu Sans Condensed', fontSize:19.2, fill:'#222'}}}});

const chart = echarts.init(document.getElementById('c'), null, {renderer:'canvas'});
chart.setOption({animation:false, backgroundColor:'#ffffff', grid, xAxis, yAxis, series, legend, graphic});
</script>
</body></html>
